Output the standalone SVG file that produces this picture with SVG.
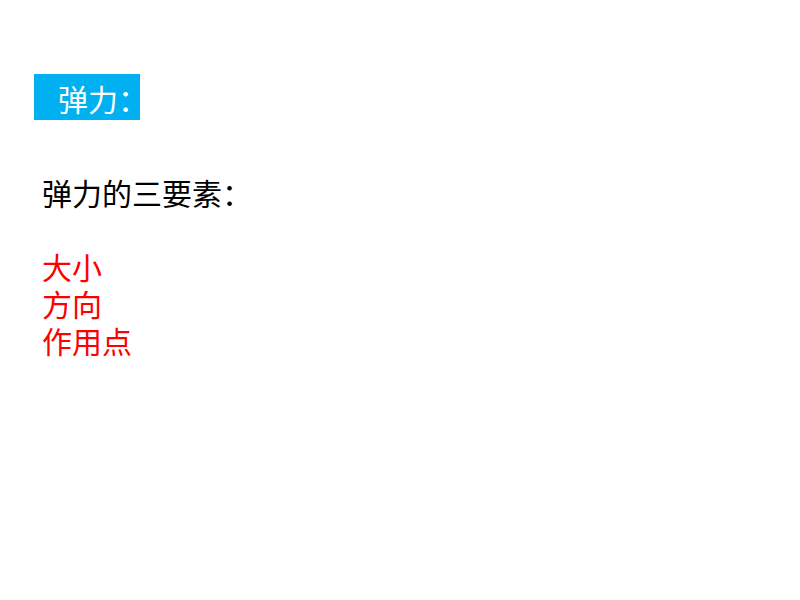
<svg xmlns="http://www.w3.org/2000/svg" width="800" height="600" viewBox="0 0 800 600">
<style>
text{font-family:"Noto Sans CJK SC","Liberation Sans",sans-serif;font-size:30px;font-weight:400}
.r{fill:#FF0000}
</style>
<rect width="800" height="600" fill="#FFFFFF"/>
<g id="title">
<rect x="34" y="74" width="106" height="46" fill="#00B0F0"/>
<text x="58" y="111" fill="#FFFFFF" font-size="29">弹力：</text>
</g>
<g id="heading">
<text x="42" y="205" fill="#000000">弹力的三要素：</text>
</g>
<g id="items">
<text class="r" x="42" y="279">大小</text>
<text class="r" x="42" y="316">方向</text>
<text class="r" x="42" y="353">作用点</text>
</g>
</svg>
